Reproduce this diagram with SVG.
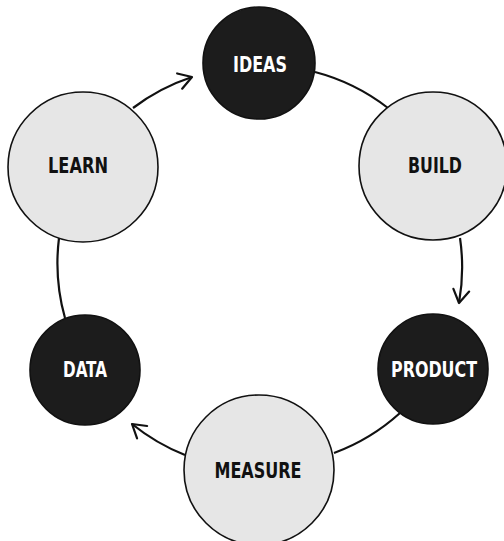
<svg xmlns="http://www.w3.org/2000/svg" width="504" height="541" viewBox="0 0 504 541">
<defs>
<style>
.light{fill:#e6e6e6;stroke:#111;stroke-width:1.6}
.dark{fill:#1c1c1c;stroke:#111;stroke-width:1.6}
.lbl{font-family:"Liberation Sans Narrow","DejaVu Sans Condensed","Liberation Sans",sans-serif;font-weight:bold;font-size:22px;text-anchor:middle}
.lt{fill:#111}
.dt{fill:#fff}
.conn{fill:none;stroke:#111;stroke-width:2.2}
</style>
<marker id="arrow" markerUnits="userSpaceOnUse" markerWidth="20" markerHeight="20" viewBox="-15 -10 20 20" refX="0" refY="0" orient="auto">
<path d="M-13,-8 L0,0 L-13,8" fill="none" stroke="#111" stroke-width="2.2" stroke-linecap="round" stroke-linejoin="round"/>
</marker>
</defs>
<rect width="504" height="541" fill="#fff"/>
<g id="connectors">
<path class="conn" d="M315,72 A203,203 0 0 1 388,108"/>
<path class="conn" d="M460,238 A203,203 0 0 1 459,303" marker-end="url(#arrow)"/>
<path class="conn" d="M400,413 A203,203 0 0 1 334,453"/>
<path class="conn" d="M185,455 A203,203 0 0 1 132,424" marker-end="url(#arrow)"/>
<path class="conn" d="M65,318 A203,203 0 0 1 59,238"/>
<path class="conn" d="M133,108 A203,203 0 0 1 192,77" marker-end="url(#arrow)"/>
</g>
<g id="ideas">
<circle class="dark" cx="259" cy="63" r="56"/>
<text class="lbl dt" x="260" y="72" textLength="54" lengthAdjust="spacingAndGlyphs">IDEAS</text>
</g>
<g id="build">
<circle class="light" cx="433" cy="166" r="74"/>
<text class="lbl lt" x="435" y="173" textLength="54" lengthAdjust="spacingAndGlyphs">BUILD</text>
</g>
<g id="product">
<circle class="dark" cx="433" cy="369" r="55"/>
<text class="lbl dt" x="434" y="377" textLength="86" lengthAdjust="spacingAndGlyphs">PRODUCT</text>
</g>
<g id="measure">
<circle class="light" cx="259" cy="470" r="75"/>
<text class="lbl lt" x="258" y="478" textLength="87" lengthAdjust="spacingAndGlyphs">MEASURE</text>
</g>
<g id="data">
<circle class="dark" cx="85" cy="370" r="55"/>
<text class="lbl dt" x="85" y="377" textLength="44" lengthAdjust="spacingAndGlyphs">DATA</text>
</g>
<g id="learn">
<circle class="light" cx="83" cy="167" r="75"/>
<text class="lbl lt" x="78" y="173" textLength="60" lengthAdjust="spacingAndGlyphs">LEARN</text>
</g>
</svg>
